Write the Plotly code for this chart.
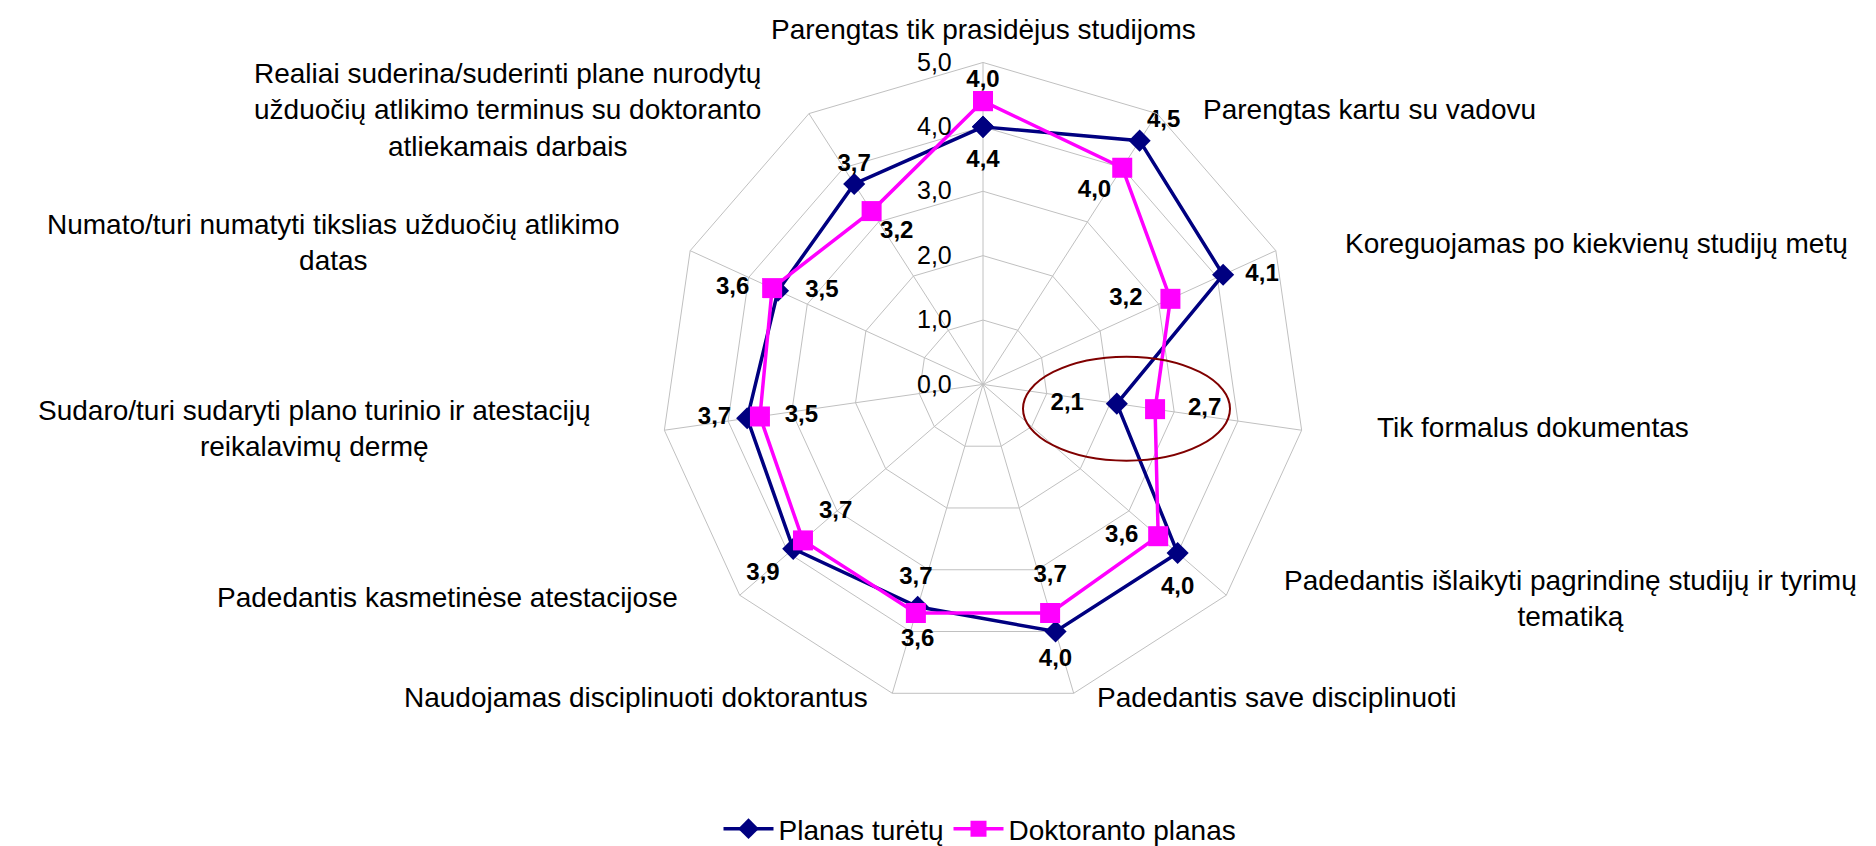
import plotly.graph_objects as go

# ---------------- data ----------------
categories = [
    "Parengtas tik prasidėjus studijoms",
    "Parengtas kartu su vadovu",
    "Koreguojamas po kiekvienų studijų metų",
    "Tik formalus dokumentas",
    "Padedantis išlaikyti pagrindinę studijų ir tyrimų<br>tematiką",
    "Padedantis save disciplinuoti",
    "Naudojamas disciplinuoti doktorantus",
    "Padedantis kasmetinėse atestacijose",
    "Sudaro/turi sudaryti plano turinio ir atestacijų<br>reikalavimų dermę",
    "Numato/turi numatyti tikslias užduočių atlikimo<br>datas",
    "Realiai suderina/suderinti plane nurodytų<br>užduočių atlikimo terminus su doktoranto<br>atliekamais darbais",
]
planas_turetu = [4.0, 4.5, 4.1, 2.1, 4.0, 4.0, 3.6, 3.9, 3.7, 3.5, 3.7]
doktoranto_planas = [4.4, 4.0, 3.2, 2.7, 3.6, 3.7, 3.7, 3.7, 3.5, 3.6, 3.2]
series_names = ["Planas turėtų", "Doktoranto planas"]
radial_ticks = [0, 1, 2, 3, 4, 5]

# ---------------- styles / layout ----------------
W, H = 1876, 846
FONT = "Liberation Sans, Arial, sans-serif"
BLUE = "#000080"
PINK = "#FF00FF"
GRID = "#c0c0c0"


def px(x):
    return x / W


def py(y):
    return 1 - y / H


# polar area (pixel centre and radius)
CX, CY, R = 975, 380, 325

# data-label placement (position + offset as invisible marker size)
blue_lbl_pos = ["top center", "top right", "middle right", "middle left", "bottom center",
                "bottom center", "bottom center", "bottom left", "middle left", "middle right",
                "top center"]
blue_lbl_off = [52, 10, 34, 51, 35, 24, 32, 20, 24, 42, 10]
pink_lbl_pos = ["bottom center", "bottom left", "middle left", "middle right", "middle left",
                "top center", "top center", "top right", "middle right", "middle left",
                "bottom right"]
pink_lbl_off = [75, 16, 43, 51, 30, 38, 35, 24, 38, 35, 12]

# category label placement in pixels (x, y, xanchor)
cat_lbl_place = [
    (975, 22, "center"),
    (1193, 102, "left"),
    (1335, 238, "left"),
    (1367, 424, "left"),
    (1274, 596, "left"),
    (1087, 696, "left"),
    (862, 696, "right"),
    (672, 595, "right"),
    (585, 425, "right"),
    (614, 237, "right"),
    (755, 103, "right"),
]


def fmt(v):
    return f"{v:.1f}".replace(".", ",")


fig = go.Figure()

series = [
    (planas_turetu, series_names[0], BLUE, "diamond", 17, blue_lbl_pos, blue_lbl_off),
    (doktoranto_planas, series_names[1], PINK, "square", 20, pink_lbl_pos, pink_lbl_off),
]

for vals, name, color, sym, msize, _, _ in series:
    fig.add_trace(go.Scatterpolar(
        r=vals + vals[:1],
        theta=categories + categories[:1],
        mode="lines+markers",
        name=name,
        line=dict(color=color, width=3.5),
        marker=dict(symbol=sym, size=msize, color=color, line=dict(width=0)),
        hoverinfo="skip",
    ))

for vals, name, color, sym, msize, lpos, loff in series:
    fig.add_trace(go.Scatterpolar(
        r=vals,
        theta=categories,
        mode="markers+text",
        text=[fmt(v) for v in vals],
        textposition=lpos,
        textfont=dict(family=FONT, size=24, color="black", weight="bold"),
        marker=dict(size=loff, color="rgba(0,0,0,0)", opacity=0,
                    line=dict(width=0, color="rgba(0,0,0,0)")),
        showlegend=False,
        hoverinfo="skip",
    ))

annotations = []
for cat, (x, y, xa) in zip(categories, cat_lbl_place):
    annotations.append(dict(
        text=cat, x=px(x), y=py(y), xref="paper", yref="paper",
        xanchor=xa, yanchor="middle", align="center", showarrow=False,
        font=dict(family=FONT, size=28, color="black"),
    ))

fig.update_layout(
    width=W, height=H,
    margin=dict(l=0, r=0, t=0, b=0),
    paper_bgcolor="white",
    plot_bgcolor="white",
    separators=", ",
    font=dict(family=FONT, color="black"),
    polar=dict(
        domain=dict(x=[px(CX - R), px(CX + R)], y=[py(CY + R), py(CY - R)]),
        bgcolor="white",
        gridshape="linear",
        radialaxis=dict(
            range=[0, 5], tickvals=radial_ticks, tickformat=".1f",
            angle=90, tickangle=90, side="counterclockwise",
            showline=False, ticks="outside", ticklen=22, tickcolor="rgba(0,0,0,0)",
            gridcolor=GRID, gridwidth=1,
            tickfont=dict(family=FONT, size=25, color="black"),
        ),
        angularaxis=dict(
            direction="clockwise", rotation=90, showticklabels=False, ticks="",
            gridcolor=GRID, gridwidth=1, showline=True, linecolor=GRID, linewidth=1,
        ),
    ),
    legend=dict(
        orientation="h", x=px(972), xanchor="center", y=py(829), yanchor="middle",
        font=dict(family=FONT, size=28, color="black"), itemwidth=50,
    ),
    annotations=annotations,
    shapes=[dict(
        type="circle", xref="paper", yref="paper",
        x0=px(1015), x1=px(1222), y0=py(457), y1=py(352),
        line=dict(color="#800000", width=2),
    )],
)

fig.write_html("out.html")
